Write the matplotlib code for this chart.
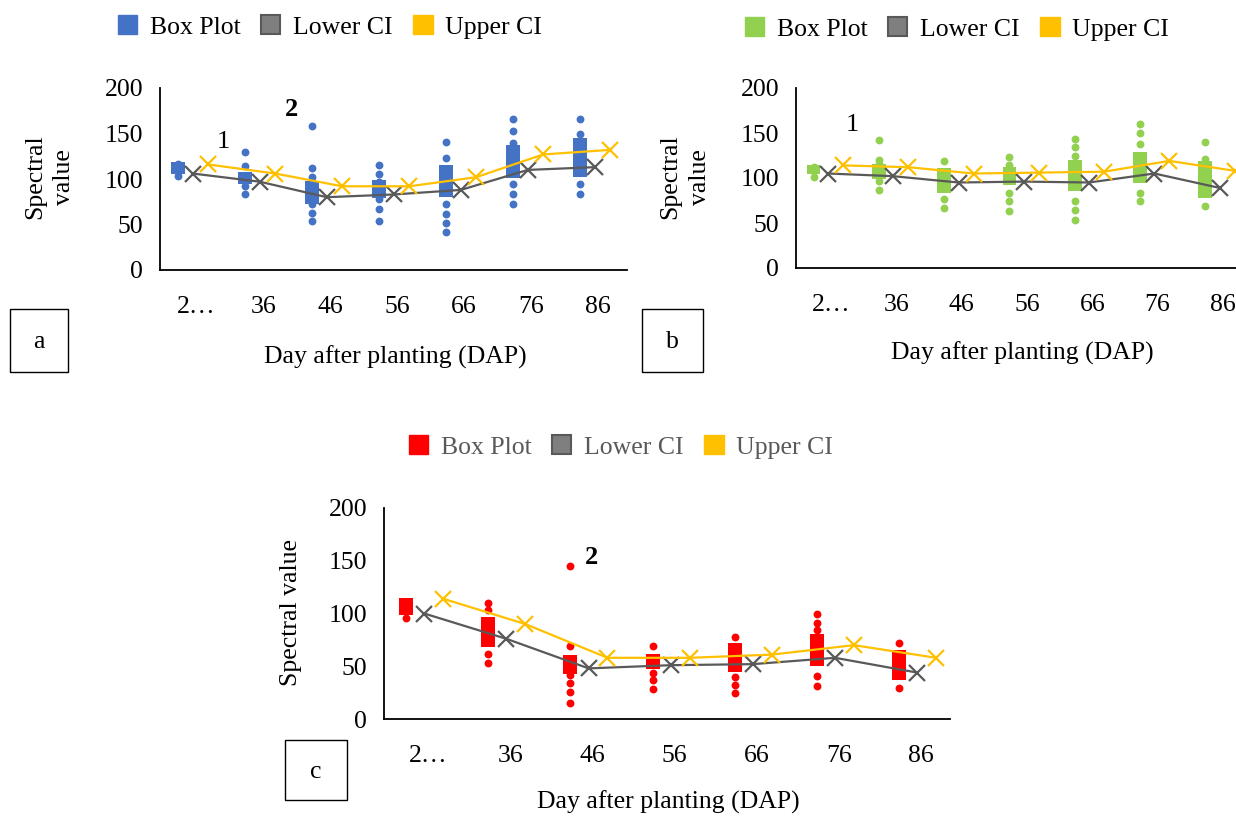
import numpy as np
import matplotlib
matplotlib.use("Agg")
import matplotlib.pyplot as plt
from matplotlib.patches import Patch, Rectangle

plt.rcParams['font.family'] = ['Liberation Serif', 'DejaVu Serif']

W, H = 1236, 816

# x categories (days after planting)
days = ['2…', '36', '46', '56', '66', '76', '86']

# panel a (blue)
a_q1 = [106, 94, 72, 79, 80, 101, 102]
a_q3 = [119, 108, 98, 99, 115, 137, 145]
a_points = [
    [103, 108, 112, 117],
    [130, 114, 103, 92, 83],
    [158, 112, 102, 94, 73, 63, 54],
    [115, 106, 97, 78, 67, 54],
    [141, 123, 73, 62, 52, 42],
    [166, 153, 140, 95, 84, 72],
    [166, 149, 95, 84],
]
a_lower = [106, 97, 80, 83, 88, 110, 113]
a_upper = [116, 106, 92, 92, 102, 127, 132]

# panel b (green)
b_q1 = [105, 99, 83, 92, 86, 94, 78]
b_q3 = [115, 115, 111, 112, 120, 129, 119]
b_points = [
    [101, 108, 112],
    [142, 120, 116, 97, 87],
    [119, 77, 67],
    [123, 114, 83, 74, 63],
    [143, 134, 124, 75, 65, 53],
    [160, 150, 138, 83, 74],
    [140, 121, 69],
]
b_lower = [105, 102, 95, 96, 95, 105, 89]
b_upper = [114, 112, 105, 106, 107, 119, 108]

# panel c (red)
c_q1 = [99, 68, 43, 47, 45, 50, 37]
c_q3 = [115, 97, 61, 62, 72, 81, 65]
c_points = [
    [96, 104, 110],
    [110, 103, 62, 53],
    [145, 69, 42, 34, 26, 15],
    [69, 44, 37, 28],
    [78, 40, 32, 25],
    [100, 91, 84, 41, 31],
    [72, 29],
]
c_lower = [100, 76, 48, 51, 52, 58, 44]
c_upper = [114, 90, 58, 58, 61, 70, 58]

GRAY = '#595959'
GOLD = '#FFC000'
FONT = 18.5


def add_axes_px(left, top, right, bottom):
    return fig.add_axes([left / W, 1 - bottom / H, (right - left) / W, (bottom - top) / H])


def fig_text(x, y, s, **kw):
    fig.text(x / W, 1 - y / H, s, **kw)


def draw_panel(ax, q1, q3, points, lower, upper, color, box_w, xmax):
    x = np.arange(len(days))
    q1 = np.array(q1)
    q3 = np.array(q3)
    ax.bar(x, q3 - q1, bottom=q1, width=box_w, color=color, zorder=2)
    for xi, pts in zip(x, points):
        ax.scatter([xi] * len(pts), pts, s=32, color=color, zorder=3,
                   linewidths=0, clip_on=False)
    ax.plot(x + 0.22, lower, color=GRAY, lw=1.6, marker='x', ms=11.5, mew=1.6,
            zorder=4, clip_on=False)
    ax.plot(x + 0.45, upper, color=GOLD, lw=1.6, marker='x', ms=11.5, mew=1.6,
            zorder=4, clip_on=False)
    ax.set_ylim(0, 200)
    ax.set_xlim(-0.27, xmax)
    ax.set_yticks([0, 50, 100, 150, 200])
    ax.set_xticks(x + 0.27)
    ax.set_xticklabels(days)
    ax.tick_params(length=0, labelsize=FONT, colors='black')
    ax.tick_params(axis='x', pad=19)
    ax.tick_params(axis='y', pad=12)
    for s in ['top', 'right']:
        ax.spines[s].set_visible(False)
    for s in ['left', 'bottom']:
        ax.spines[s].set_linewidth(1.3)
        ax.spines[s].set_color('black')
    ax.patch.set_alpha(0)


def add_legend(cx, cy, color, text_color):
    handles = [Patch(facecolor=color, edgecolor=color),
               Patch(facecolor='#7F7F7F', edgecolor=GRAY, linewidth=1.5),
               Patch(facecolor=GOLD, edgecolor=GOLD)]
    leg = fig.legend(handles, ['Box Plot', 'Lower CI', 'Upper CI'], ncol=3,
                     loc='center', bbox_to_anchor=(cx / W, 1 - cy / H),
                     frameon=False, fontsize=FONT, handlelength=0.75,
                     handleheight=0.75, handletextpad=0.5, columnspacing=0.8)
    for t in leg.get_texts():
        t.set_color(text_color)


def label_box(x0, y0, x1, y1, s):
    fig.patches.append(Rectangle((x0 / W, 1 - y1 / H), (x1 - x0) / W, (y1 - y0) / H,
                                 transform=fig.transFigure, fill=False,
                                 edgecolor='black', lw=1.0))
    fig_text((x0 + x1) / 2, (y0 + y1) / 2 + 2, s, ha='center', va='center', fontsize=FONT)


fig = plt.figure(figsize=(W / 100, H / 100), dpi=100)

# panel a
ax_a = add_axes_px(160, 88, 627, 270)
draw_panel(ax_a, a_q1, a_q3, a_points, a_lower, a_upper, '#4472C4', 0.21, 6.7)
add_legend(330, 27, '#4472C4', 'black')
fig_text(35, 177, 'Spectral', rotation=90, ha='center', va='center', fontsize=FONT)
fig_text(64, 177, 'value', rotation=90, ha='center', va='center', fontsize=FONT)
fig_text(395, 357, 'Day after planting (DAP)', ha='center', va='center', fontsize=FONT)
fig_text(223, 142, '1', ha='center', va='center', fontsize=19)
fig_text(292, 110, '2', ha='center', va='center', fontsize=19, weight='bold')
label_box(10, 309, 68, 372, 'a')

# panel b
ax_b = add_axes_px(796, 88, 1262, 268)
draw_panel(ax_b, b_q1, b_q3, b_points, b_lower, b_upper, '#92D050', 0.21, 6.87)
add_legend(957, 29, '#92D050', 'black')
fig_text(670, 177, 'Spectral', rotation=90, ha='center', va='center', fontsize=FONT)
fig_text(700, 177, 'value', rotation=90, ha='center', va='center', fontsize=FONT)
fig_text(1022, 353, 'Day after planting (DAP)', ha='center', va='center', fontsize=FONT)
fig_text(852, 125, '1', ha='center', va='center', fontsize=19)
label_box(642, 309, 703, 372, 'b')

# panel c
ax_c = add_axes_px(384, 508, 950, 719)
draw_panel(ax_c, c_q1, c_q3, c_points, c_lower, c_upper, '#FF0000', 0.17, 6.62)
add_legend(621, 447, '#FF0000', GRAY)
fig_text(291, 612, 'Spectral value', rotation=90, ha='center', va='center', fontsize=FONT)
fig_text(668, 802, 'Day after planting (DAP)', ha='center', va='center', fontsize=FONT)
fig_text(592, 557, '2', ha='center', va='center', fontsize=19, weight='bold')
label_box(285, 740, 347, 800, 'c')

fig.savefig('out.png', dpi=100)
